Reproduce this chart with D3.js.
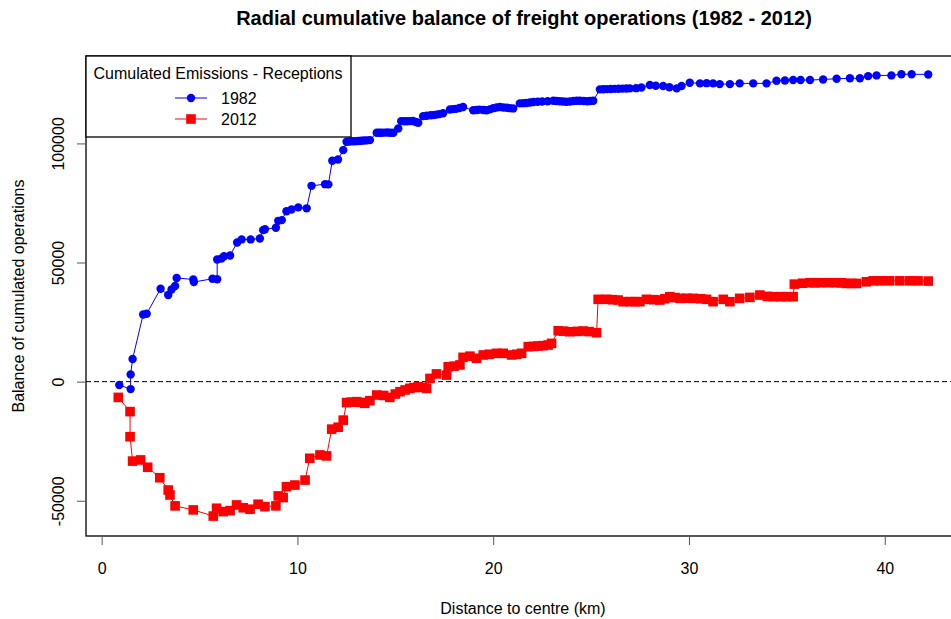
<!DOCTYPE html>
<html>
<head>
<meta charset="utf-8">
<script src="https://cdn.jsdelivr.net/npm/d3@7"></script>
<style>
  body { margin: 0; background: #fff; }
  text { font-family: "Liberation Sans", Arial, sans-serif; fill: #000; }
</style>
</head>
<body>
<div id="chart"></div>
<script>
// distance to centre (km) and balance, 1982
const km1982 = [0.90, 1.48, 1.48, 1.58, 2.12, 2.30, 3.01, 3.40, 3.57, 3.75, 3.83, 4.68, 4.71, 5.66, 5.90, 5.90,
  6.12, 6.25, 6.56, 6.92, 7.15, 7.61, 8.08, 8.25, 8.34, 8.90, 9.02, 9.20, 9.44, 9.70, 10.04, 10.47, 10.72,
  11.41, 11.58, 11.78, 12.07, 12.34, 12.51, 12.65, 12.8, 12.95, 13.1, 13.25, 13.4, 13.55, 13.70,
  14.05, 14.18, 14.3, 14.45, 14.6, 14.75, 14.90, 15.15, 15.30, 15.45, 15.6, 15.75, 15.9, 16.05, 16.17,
  16.42, 16.6, 16.8, 16.95, 17.1, 17.25, 17.44, 17.79, 17.95, 18.1, 18.28, 18.46, 18.98, 19.15, 19.3, 19.5,
  19.66, 19.83, 20.0, 20.17, 20.34, 20.52, 20.7, 20.85, 21.02, 21.36, 21.53, 21.7, 21.88, 22.05, 22.27, 22.5,
  22.78, 23.07, 23.23, 23.4, 23.57, 23.74, 23.92, 24.1, 24.27, 24.43, 24.62, 24.8, 24.95, 25.11, 25.45, 25.62,
  25.8, 26.0, 26.2, 26.4, 26.6, 26.8, 26.98, 27.3, 27.57, 28.00, 28.3, 28.68, 29.0, 29.37, 29.62, 30.04,
  30.56, 30.9, 31.23, 31.57, 32.09, 32.59, 33.28, 33.96, 34.47, 34.9, 35.32, 35.7, 36.18, 36.85, 37.54, 38.22,
  38.73, 39.15, 39.58, 40.34, 40.85, 41.37, 42.22];
const bal1982 = [-1440, -3130, 3030, 9500, 28200, 28500, 39000, 36350, 38700, 40150, 43500, 42900, 41800, 43200,
  43000, 51250, 51700, 52650, 52950, 58400, 59700, 59700, 60100, 63600, 64000, 64600, 67500, 67800, 71550,
  72250, 73150, 72750, 82200, 82900, 82800, 92750, 93250, 97200, 100700, 100800, 100900, 100900, 101000,
  101100, 101200, 101300, 101400, 104500, 104500, 104500, 104550, 104600, 104500, 104500, 106300, 109350,
  109300, 109300, 109350, 109400, 109000, 108650, 111450, 111600, 111800, 111900, 112100, 112300, 112650,
  114250, 114400, 114500, 114900, 115300, 113900, 114000, 114200, 114000, 113900, 114300, 114800, 115100,
  115300, 115100, 115000, 114800, 114700, 116800, 116900, 117000, 117200, 117400, 117500, 117600, 117700,
  117900, 117800, 117700, 117600, 117500, 117600, 117800, 117900, 117900, 117800, 117700, 117800, 117900,
  122700, 122750, 122800, 122850, 122900, 122950, 123000, 123050, 123100, 123200, 123500, 124500, 124200,
  124100, 123600, 123100, 124100, 125500, 125200, 125300, 125200, 124900, 124900, 125200, 125200, 125200,
  126300, 126400, 126600, 126600, 126600, 126850, 127150, 127350, 127350, 128250, 128550, 128550, 129050,
  129050, 128950];

// distance to centre (km) and balance, 2012
const km2012 = [0.85, 1.45, 1.45, 1.58, 1.99, 2.35, 2.97, 3.40, 3.49, 3.75, 4.68, 5.70, 5.87, 6.21, 6.56, 6.89,
  7.23, 7.58, 7.99, 8.34, 8.90, 9.02, 9.27, 9.44, 9.87, 10.39, 10.63, 11.15, 11.49, 11.75, 12.08, 12.34,
  12.51, 12.75, 13.02, 13.22, 13.44, 13.70, 14.05, 14.4, 14.72, 15.0, 15.24, 15.5, 15.74, 15.95, 16.17, 16.38,
  16.60, 16.77, 17.10, 17.62, 17.70, 18.0, 18.30, 18.46, 18.81, 19.15, 19.49, 19.8, 20.17, 20.51, 20.94, 21.2,
  21.45, 21.79, 22.05, 22.29, 22.55, 22.81, 22.98, 23.32, 23.6, 23.91, 24.3, 24.60, 24.9, 25.28, 25.36, 25.79,
  26.1, 26.38, 26.64, 27.0, 27.25, 27.49, 27.83, 28.2, 28.51, 28.77, 29.02, 29.28, 29.54, 29.9, 30.21, 30.6,
  30.90, 31.23, 31.75, 32.09, 32.59, 33.11, 33.62, 34.0, 34.30, 34.7, 34.98, 35.32, 35.38, 35.8, 36.18, 36.43,
  36.68, 37.1, 37.54, 37.8, 38.04, 38.3, 38.56, 39.06, 39.41, 39.8, 40.25, 40.77, 41.28, 41.7, 42.22];
const bal2012 = [-6610, -12580, -23120, -33360, -32870, -35950, -40330, -45500, -47580, -52160, -53850, -56440,
  -53150, -54550, -54150, -51760, -52960, -53550, -51460, -52460, -52160, -47980, -48680, -44100, -43410,
  -41320, -32170, -30780, -31180, -19940, -19140, -16160, -8800, -8600, -8400, -8700, -9100, -8000, -5620,
  -5800, -6610, -5200, -4220, -3500, -2830, -2500, -2130, -2400, -2830, 1350, 3240, 2740, 6220, 6500, 7010,
  10200, 10690, 9800, 11190, 11500, 11890, 11890, 11190, 11500, 11890, 14670, 14800, 14970, 15100, 15370,
  16060, 21340, 21200, 20940, 21100, 21240, 21000, 20540, 34560, 34560, 34400, 34260, 33570, 33600, 33570,
  33570, 34560, 34400, 34260, 34800, 35660, 35300, 34960, 35000, 34960, 34800, 34560, 33570, 34560, 33570,
  34960, 35360, 36350, 35800, 35660, 35660, 35660, 35660, 40930, 41300, 41520, 41520, 41520, 41520, 41520,
  41500, 41230, 41230, 41230, 41920, 42320, 42320, 42320, 42320, 42320, 42300, 42220];

const xTicks = [0, 10, 20, 30, 40];
const yTicks = [-50000, 0, 50000, 100000];
const seriesNames = ["1982", "2012"];
const seriesColors = ["#0000ff", "#ff0000"];

const width = 951;
const height = 619;
const plot = { left: 86, right: 967, top: 56, bottom: 536 };

const svg = d3.select("#chart").append("svg")
  .attr("width", width)
  .attr("height", height);

const xScale = d3.scaleLinear()
  .domain([-0.8, 44.2])
  .range([plot.left, plot.right]);

const yScale = d3.scaleLinear()
  .domain([-64800, 136700])
  .range([plot.bottom, plot.top]);

// zero line
svg.append("line")
  .attr("x1", plot.left)
  .attr("x2", plot.right)
  .attr("y1", yScale(0))
  .attr("y2", yScale(0))
  .attr("stroke", "#000")
  .attr("stroke-dasharray", "5,3");

const series = [
  { name: seriesNames[0], color: seriesColors[0], shape: "circle",
    points: km1982.map((k, i) => ({ x: k, y: bal1982[i] })) },
  { name: seriesNames[1], color: seriesColors[1], shape: "square",
    points: km2012.map((k, i) => ({ x: k, y: bal2012[i] })) }
];

const line = d3.line()
  .x(d => xScale(d.x))
  .y(d => yScale(d.y));

function drawMarker(g, shape, color, cx, cy) {
  if (shape === "circle") {
    g.append("circle")
      .attr("cx", cx).attr("cy", cy).attr("r", 4.2)
      .attr("fill", color);
  } else {
    g.append("rect")
      .attr("x", cx - 4.8).attr("y", cy - 4.8)
      .attr("width", 9.6).attr("height", 9.6)
      .attr("fill", color);
  }
}

series.forEach(s => {
  const g = svg.append("g");
  g.append("path")
    .datum(s.points)
    .attr("fill", "none")
    .attr("stroke", s.color)
    .attr("stroke-width", 1)
    .attr("d", line);
  s.points.forEach(p => drawMarker(g, s.shape, s.color, xScale(p.x), yScale(p.y)));
});

// box
svg.append("rect")
  .attr("x", plot.left)
  .attr("y", plot.top)
  .attr("width", plot.right - plot.left)
  .attr("height", plot.bottom - plot.top)
  .attr("fill", "none")
  .attr("stroke", "#000")
  .attr("stroke-width", 1.3);

// x axis
const xAxis = svg.append("g")
  .attr("transform", "translate(0," + plot.bottom + ")")
  .call(d3.axisBottom(xScale).tickValues(xTicks).tickSize(9).tickFormat(d => d));
xAxis.select(".domain").remove();
xAxis.selectAll(".tick line").attr("stroke", "#555");
xAxis.selectAll("text")
  .attr("y", 0)
  .attr("dy", "38px")
  .style("font-size", "16px")
  .style("font-family", "Liberation Sans, Arial, sans-serif")
  .attr("fill", "#000");

// y axis
const yAxis = svg.append("g")
  .attr("transform", "translate(" + plot.left + ",0)")
  .call(d3.axisLeft(yScale).tickValues(yTicks).tickSize(9).tickFormat(d => d));
yAxis.select(".domain").remove();
yAxis.selectAll(".tick line").attr("stroke", "#555");
yAxis.selectAll("text")
  .attr("x", 0)
  .attr("dy", 0)
  .attr("text-anchor", "middle")
  .attr("transform", "translate(-22,0) rotate(-90)")
  .style("font-size", "16px")
  .style("font-family", "Liberation Sans, Arial, sans-serif")
  .attr("fill", "#000");

// titles
svg.append("text")
  .attr("x", 524)
  .attr("y", 25)
  .attr("text-anchor", "middle")
  .style("font-size", "20px")
  .style("font-weight", "bold")
  .text("Radial cumulative balance of freight operations (1982 - 2012)");

svg.append("text")
  .attr("x", 523)
  .attr("y", 614)
  .attr("text-anchor", "middle")
  .style("font-size", "16px")
  .text("Distance to centre (km)");

svg.append("text")
  .attr("transform", "translate(24,296) rotate(-90)")
  .attr("text-anchor", "middle")
  .style("font-size", "16px")
  .text("Balance of cumulated operations");

// legend
const legend = svg.append("g");
legend.append("rect")
  .attr("x", plot.left)
  .attr("y", plot.top)
  .attr("width", 265)
  .attr("height", 81)
  .attr("fill", "#fff")
  .attr("stroke", "#000")
  .attr("stroke-width", 1.3);
legend.append("text")
  .attr("x", 218)
  .attr("y", 79)
  .attr("text-anchor", "middle")
  .style("font-size", "16px")
  .text("Cumulated Emissions - Receptions");

series.forEach((s, i) => {
  const ly = 98 + i * 21;
  legend.append("line")
    .attr("x1", 175).attr("x2", 207)
    .attr("y1", ly).attr("y2", ly)
    .attr("stroke", s.color);
  drawMarker(legend, s.shape, s.color, 191, ly);
  legend.append("text")
    .attr("x", 221)
    .attr("y", ly + 6)
    .style("font-size", "16px")
    .text(s.name);
});
</script>
</body>
</html>
